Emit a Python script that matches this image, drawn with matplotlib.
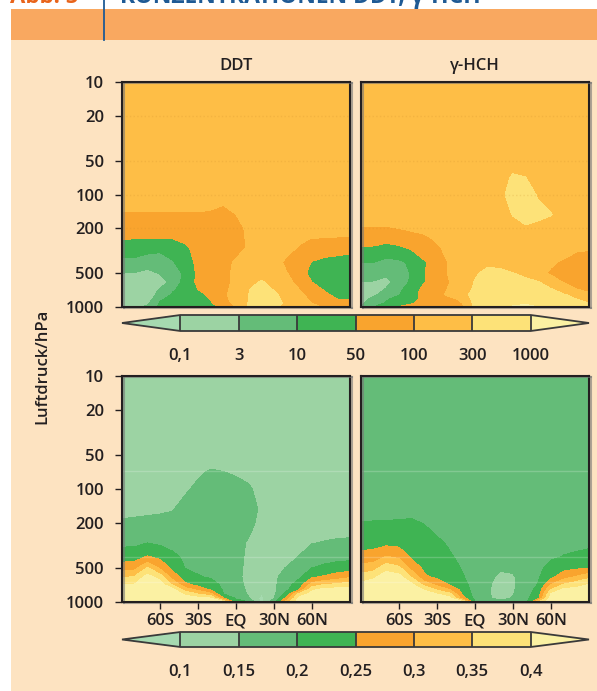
import numpy as np
import matplotlib
matplotlib.use("Agg")
from matplotlib import pyplot as plt
from matplotlib.patches import Rectangle
from matplotlib.ticker import NullLocator
import matplotlib.patheffects as pe

plt.rcParams['font.family'] = ['Open Sans', 'DejaVu Sans']
plt.rcParams['font.weight'] = 'semibold'

W, H = 597, 691

lats = [-90, -80, -70, -60, -50, -40, -30, -20, -10, 0, 10, 20, 30, 40, 50, 60, 70, 80, 90]
pressures = [10, 50, 70, 100, 150, 200, 250, 300, 400, 500, 600, 700, 775, 850, 925, 1000]

p_ticks = [10, 20, 50, 100, 200, 500, 1000]
lat_ticks = [-60, -30, 0, 30, 60]
lat_labels = ["60S", "30S", "EQ", "30N", "60N"]

# fields are read off the picture as position on the colour scale (class i = i..i+1)
# one row per pressure, top to bottom
ddt_conc = np.array([
    [5.5] * 19,
    [5.5] * 19,
    [5.5] * 19,
    [5.3, 5.3, 5.3, 5.3, 5.3, 5.3, 5.3, 5.3, 5.25, 5.4, 5.5, 5.5, 5.5, 5.5, 5.5, 5.5, 5.5, 5.5, 5.5],
    [4.95, 4.95, 4.95, 4.95, 4.95, 4.95, 4.95, 4.9, 4.75, 5.0, 5.6, 5.5, 5.5, 5.5, 5.5, 5.5, 5.5, 5.5, 5.5],
    [4.5, 4.5, 4.5, 4.5, 4.5, 4.5, 4.5, 4.5, 4.5, 4.5, 5.3, 5.5, 5.5, 5.5, 5.5, 5.5, 5.5, 5.5, 5.5],
    [4.0, 3.98, 3.95, 3.95, 3.98, 4.2, 4.5, 4.5, 4.5, 4.5, 5.2, 5.5, 5.5, 5.4, 5.15, 4.95, 4.9, 4.85, 4.85],
    [3.5, 3.5, 3.3, 3.2, 3.5, 3.8, 4.4, 4.5, 4.5, 4.5, 5.2, 5.5, 5.5, 5.3, 4.9, 4.6, 4.5, 4.4, 4.3],
    [2.7, 2.7, 2.5, 2.5, 2.9, 3.6, 4.2, 4.5, 4.5, 5.2, 5.5, 5.5, 5.5, 4.75, 4.5, 3.95, 3.7, 3.6, 3.5],
    [2.0, 1.95, 1.7, 2.05, 2.5, 3.2, 4.2, 4.4, 4.6, 5.3, 5.5, 5.5, 5.5, 5.05, 4.4, 3.7, 3.5, 3.4, 3.4],
    [1.5, 1.5, 1.4, 1.5, 2.3, 3.4, 4.2, 4.4, 4.6, 5.3, 5.7, 6.1, 5.7, 5.3, 4.7, 4.0, 3.5, 3.3, 3.3],
    [1.5, 1.5, 1.3, 2.1, 2.9, 3.3, 4.0, 4.4, 4.7, 5.4, 5.95, 6.4, 5.95, 5.5, 5.0, 4.5, 3.9, 3.5, 3.4],
    [1.5, 1.5, 1.3, 2.4, 3.1, 3.2, 3.7, 4.2, 4.8, 5.4, 6.0, 6.5, 6.2, 5.6, 5.2, 4.7, 4.2, 3.7, 3.6],
    [1.2, 1.5, 1.4, 2.9, 3.2, 3.3, 3.6, 4.05, 4.8, 5.3, 6.0, 6.6, 6.3, 5.7, 5.4, 4.8, 4.4, 4.0, 4.0],
    [0.9, 1.5, 1.8, 3.1, 3.3, 3.4, 3.6, 3.9, 4.6, 5.2, 6.05, 6.7, 6.4, 5.8, 5.4, 5.0, 4.5, 4.3, 4.2],
    [0.9, 1.7, 2.2, 3.2, 3.4, 3.5, 3.6, 3.9, 4.05, 5.0, 6.05, 6.6, 6.2, 5.6, 5.3, 5.3, 4.85, 4.5, 4.4],
])

hch_conc = np.array([
    [5.5] * 19,
    [5.5] * 19,
    [5.5, 5.5, 5.5, 5.5, 5.5, 5.5, 5.5, 5.5, 5.5, 5.5, 5.5, 5.5, 6.15, 6.0, 5.5, 5.5, 5.5, 5.5, 5.5],
    [5.5, 5.5, 5.5, 5.5, 5.5, 5.5, 5.5, 5.5, 5.5, 5.5, 5.5, 5.7, 6.5, 6.4, 5.9, 5.5, 5.5, 5.5, 5.5],
    [5.5, 5.5, 5.5, 5.5, 5.5, 5.5, 5.5, 5.5, 5.5, 5.5, 5.5, 5.6, 6.05, 6.4, 6.3, 6.05, 5.5, 5.5, 5.5],
    [4.9, 4.9, 4.9, 5.0, 5.1, 5.3, 5.4, 5.5, 5.5, 5.5, 5.5, 5.5, 5.6, 5.85, 5.6, 5.5, 5.5, 5.5, 5.5],
    [4.5, 4.4, 4.3, 4.4, 4.7, 4.7, 5.15, 5.5, 5.5, 5.5, 5.5, 5.5, 5.5, 5.5, 5.5, 5.5, 5.5, 5.5, 5.5],
    [3.9, 3.85, 3.6, 3.8, 4.1, 4.5, 4.8, 5.4, 5.5, 5.5, 5.5, 5.5, 5.5, 5.5, 5.5, 5.5, 5.3, 5.1, 5.05],
    [3.0, 3.0, 2.7, 2.8, 3.2, 3.9, 4.5, 5.1, 5.5, 5.6, 5.85, 5.8, 5.6, 5.5, 5.4, 5.1, 4.9, 4.7, 4.7],
    [2.4, 2.3, 2.2, 2.4, 3.1, 3.95, 4.5, 5.1, 5.5, 5.9, 6.2, 6.15, 6.02, 5.8, 5.2, 4.9, 4.5, 4.4, 4.4],
    [2.0, 1.95, 1.7, 2.5, 3.15, 3.95, 4.6, 5.0, 5.5, 6.05, 6.4, 6.4, 6.3, 6.2, 6.05, 5.4, 4.95, 4.6, 4.5],
    [1.6, 1.5, 2.1, 2.8, 3.5, 4.3, 4.6, 5.1, 5.7, 6.1, 6.5, 6.5, 6.4, 6.4, 6.3, 6.1, 5.6, 5.05, 4.8],
    [1.5, 1.8, 2.5, 2.95, 3.6, 4.4, 4.7, 5.2, 5.75, 6.3, 6.6, 6.6, 6.5, 6.5, 6.4, 6.3, 6.05, 5.8, 5.15],
    [1.6, 2.3, 2.9, 3.3, 3.7, 4.3, 4.7, 4.8, 5.15, 6.4, 6.7, 6.7, 6.7, 6.7, 6.6, 6.5, 6.2, 6.0, 5.7],
    [1.8, 2.6, 3.1, 3.5, 3.9, 4.4, 4.7, 4.8, 5.0, 6.3, 6.8, 6.8, 6.9, 6.95, 6.8, 6.7, 6.4, 6.2, 6.0],
    [2.0, 3.0, 3.7, 4.1, 4.4, 4.6, 4.7, 4.8, 4.85, 6.2, 6.8, 6.9, 7.05, 7.1, 7.0, 6.8, 6.5, 6.3, 6.1],
])

ddt_ratio = np.array([
    [1.5, 1.5, 1.5, 1.5, 1.7, 2.15, 2.5, 2.8, 3.55, 4.55, 5.85, 7.05, 7.4, 7.6, 7.7, 7.8],
    [1.5, 1.5, 1.5, 1.5, 1.75, 2.2, 2.5, 2.8, 3.6, 4.7, 6.1, 7.05, 7.4, 7.6, 7.7, 7.8],
    [1.5, 1.5, 1.5, 1.5, 1.8, 2.25, 2.6, 3.0, 4.1, 6.1, 7.4, 7.6, 7.7, 7.8, 7.8, 7.8],
    [1.5, 1.5, 1.5, 1.5, 1.85, 2.3, 2.6, 2.85, 3.8, 4.8, 6.6, 7.5, 7.7, 7.8, 7.8, 7.8],
    [1.5, 1.5, 1.5, 1.6, 1.95, 2.3, 2.55, 2.75, 3.2, 3.75, 4.55, 5.85, 7.3, 7.6, 7.7, 7.8],
    [1.5, 1.5, 1.6, 1.9, 2.3, 2.5, 2.6, 2.7, 2.85, 2.97, 3.5, 4.2, 5.5, 6.8, 7.4, 7.7],
    [1.5, 1.7, 1.9, 2.15, 2.35, 2.4, 2.5, 2.6, 2.75, 2.88, 3.05, 3.7, 4.7, 6.0, 7.3, 7.6],
    [1.5, 1.75, 2.05, 2.25, 2.4, 2.45, 2.5, 2.55, 2.7, 2.8, 2.92, 3.35, 3.8, 5.3, 7.05, 7.6],
    [1.5, 1.75, 2.0, 2.2, 2.35, 2.4, 2.45, 2.5, 2.55, 2.6, 2.7, 2.8, 2.9, 3.0, 4.1, 7.4],
    [1.5, 1.7, 1.95, 2.15, 2.3, 2.35, 2.3, 2.3, 2.4, 2.4, 2.35, 2.5, 2.6, 2.75, 2.9, 3.3],
    [1.5, 1.6, 1.8, 2.1, 2.25, 2.2, 2.05, 1.9, 1.75, 1.65, 1.6, 1.65, 1.75, 1.85, 2.1, 3.05],
    [1.5, 1.55, 1.6, 1.75, 1.9, 1.8, 1.7, 1.6, 1.55, 1.5, 1.5, 1.5, 1.3, 1.0, 0.7, 0.8],
    [1.5, 1.5, 1.5, 1.5, 1.5, 1.5, 1.5, 1.5, 1.5, 1.7, 1.75, 1.8, 1.8, 1.8, 2.0, 2.6],
    [1.5, 1.5, 1.5, 1.5, 1.5, 1.5, 1.5, 1.5, 1.7, 2.05, 2.5, 2.65, 2.8, 3.4, 4.3, 5.6],
    [1.5, 1.5, 1.5, 1.5, 1.5, 1.5, 1.6, 1.7, 2.05, 2.5, 2.85, 3.45, 3.95, 6.4, 7.3, 7.6],
    [1.5, 1.5, 1.5, 1.5, 1.5, 1.6, 1.8, 1.97, 2.5, 3.0, 3.85, 5.4, 6.8, 7.3, 7.6, 7.7],
    [1.5, 1.5, 1.5, 1.5, 1.5, 1.65, 1.85, 2.05, 2.6, 3.25, 4.15, 6.0, 7.3, 7.5, 7.7, 7.7],
    [1.5, 1.5, 1.5, 1.5, 1.5, 1.65, 1.9, 2.1, 2.7, 3.45, 4.5, 6.2, 7.4, 7.6, 7.7, 7.7],
    [1.5, 1.5, 1.5, 1.5, 1.5, 1.7, 1.9, 2.15, 2.75, 3.55, 4.85, 6.6, 7.4, 7.6, 7.7, 7.7],
]).T

hch_ratio = np.array([
    [2.5, 2.5, 2.5, 2.5, 2.75, 3.02, 3.3, 3.6, 4.35, 5.4, 6.45, 7.3, 7.5, 7.6, 7.7, 7.7],
    [2.5, 2.5, 2.5, 2.5, 2.75, 3.05, 3.35, 3.65, 4.5, 5.6, 6.85, 7.4, 7.6, 7.7, 7.7, 7.7],
    [2.5, 2.5, 2.5, 2.5, 2.75, 3.05, 3.4, 3.75, 5.1, 6.7, 7.5, 7.7, 7.7, 7.7, 7.7, 7.7],
    [2.5, 2.5, 2.5, 2.5, 2.75, 3.1, 3.45, 3.7, 4.8, 6.25, 7.4, 7.7, 7.7, 7.7, 7.7, 7.7],
    [2.5, 2.5, 2.5, 2.5, 2.8, 3.1, 3.35, 3.55, 3.85, 4.65, 5.9, 7.2, 7.5, 7.6, 7.7, 7.7],
    [2.5, 2.5, 2.5, 2.5, 2.7, 2.97, 3.2, 3.35, 3.55, 3.8, 4.15, 5.65, 6.9, 7.4, 7.6, 7.7],
    [2.5, 2.5, 2.5, 2.5, 2.6, 2.8, 2.95, 3.15, 3.4, 3.6, 3.8, 4.7, 5.8, 7.0, 7.4, 7.6],
    [2.5, 2.5, 2.5, 2.5, 2.5, 2.6, 2.75, 2.9, 3.1, 3.4, 3.6, 3.9, 5.0, 6.3, 7.3, 7.6],
    [2.5, 2.5, 2.5, 2.5, 2.5, 2.5, 2.55, 2.6, 2.8, 2.93, 3.1, 3.4, 3.6, 3.9, 4.5, 7.4],
    [2.5, 2.5, 2.5, 2.5, 2.5, 2.5, 2.5, 2.5, 2.5, 2.5, 2.5, 2.5, 2.55, 2.6, 2.7, 3.1],
    [2.5, 2.5, 2.5, 2.5, 2.5, 2.5, 2.5, 2.5, 2.5, 2.5, 2.4, 2.2, 2.15, 2.15, 2.2, 2.7],
    [2.5, 2.5, 2.5, 2.5, 2.5, 2.5, 2.5, 2.5, 2.5, 2.15, 1.7, 1.5, 1.5, 1.5, 1.6, 2.4],
    [2.5, 2.5, 2.5, 2.5, 2.5, 2.5, 2.5, 2.5, 2.5, 2.15, 1.9, 1.9, 1.9, 1.95, 2.1, 2.6],
    [2.5, 2.5, 2.5, 2.5, 2.5, 2.5, 2.5, 2.5, 2.5, 2.5, 2.5, 2.5, 2.5, 2.6, 2.7, 2.5],
    [2.5, 2.5, 2.5, 2.5, 2.5, 2.5, 2.5, 2.5, 2.55, 2.7, 2.9, 3.05, 3.3, 3.5, 3.8, 6.0],
    [2.5, 2.5, 2.5, 2.5, 2.5, 2.5, 2.5, 2.7, 2.85, 3.4, 3.75, 5.0, 5.95, 7.1, 7.5, 7.7],
    [2.5, 2.5, 2.5, 2.5, 2.5, 2.5, 2.6, 2.75, 3.05, 3.7, 4.6, 6.05, 7.2, 7.5, 7.6, 7.7],
    [2.5, 2.5, 2.5, 2.5, 2.5, 2.5, 2.65, 2.8, 3.15, 3.85, 5.1, 6.6, 7.3, 7.5, 7.6, 7.7],
    [2.5, 2.5, 2.5, 2.5, 2.5, 2.5, 2.7, 2.85, 3.25, 3.95, 5.75, 7.0, 7.4, 7.6, 7.7, 7.7],
]).T

class_edges = [1, 2, 3, 4, 5, 6, 7]
class_colors = ['#A6DAB0', '#9CD3A3', '#64BC78', '#3FB453', '#F9A42E', '#FEBE46', '#FDE278', '#FBF1A3']
conc_labels = ["0,1", "3", "10", "50", "100", "300", "1000"]
ratio_labels = ["0,1", "0,15", "0,2", "0,25", "0,3", "0,35", "0,4"]

DARK = '#231F20'
FS = 12


def box(x0, y0, x1, y1):
    return [x0 / W, 1 - y1 / H, (x1 - x0) / W, (y1 - y0) / H]


def panel(x0, y0, x1, y1, field, show_p=False, show_lat=False, title=None, faint=None):
    ax = fig.add_axes(box(x0, y0, x1, y1))
    cf = ax.contourf(lats, pressures, field, levels=class_edges, colors=class_colors[1:-1],
                     extend='both')
    cf.cmap.set_under(class_colors[0])
    cf.cmap.set_over(class_colors[-1])
    cf.changed()
    ax.set_yscale('log')
    ax.set_ylim(1000, 10)
    ax.set_xlim(-90, 90)
    ax.yaxis.set_minor_locator(NullLocator())
    ax.set_yticks(p_ticks if show_p else [])
    ax.set_yticklabels([str(p) for p in p_ticks] if show_p else [])
    ax.set_xticks(lat_ticks if show_lat else [])
    ax.set_xticklabels(lat_labels if show_lat else [])
    ax.tick_params(length=5, width=1.0, color=DARK, labelcolor=DARK, labelsize=FS, pad=8)
    ax.tick_params(axis='x', pad=3)
    if faint is not None:
        for p, c, ls in faint:
            ax.axhline(p, color=c, alpha=0.2, lw=1, ls=ls)
    for s in ax.spines.values():
        s.set_linewidth(1.5)
        s.set_color(DARK)
        s.set_path_effects([pe.SimpleLineShadow(offset=(1.5, -0.5), shadow_color='#777777', alpha=0.6),
                            pe.Normal()])
    if title:
        ax.set_title(title, fontsize=FS, color=DARK, pad=9, fontweight='semibold')
    return cf


def scale(cf, y0, y1, labels):
    cax = fig.add_axes(box(122, y0, 589, y1))
    cb = fig.colorbar(cf, cax=cax, orientation='horizontal', extendfrac=1 / 6,
                      drawedges=True, ticks=class_edges)
    cb.ax.set_xticklabels(labels)
    cb.ax.tick_params(length=0, labelsize=FS, labelcolor=DARK, pad=12)
    cb.outline.set_edgecolor('#3A3A3A')
    cb.outline.set_linewidth(1.3)
    cb.dividers.set_color('#3A3A3A')
    cb.dividers.set_linewidth(1.3)


fig = plt.figure(figsize=(W / 100, H / 100), dpi=100, facecolor='white')

# page furniture: orange head band, peach box, cut off headline
fig.add_artist(Rectangle((11 / W, 0), 1 - 11 / W, 1 - 40 / H, transform=fig.transFigure,
                         facecolor='#FDE3C1', edgecolor='none', zorder=-2))
fig.add_artist(Rectangle((11 / W, 1 - 40 / H), 1 - 11 / W, 31 / H, transform=fig.transFigure,
                         facecolor='#F9A860', edgecolor='none', zorder=-2))
fig.add_artist(plt.Line2D([104 / W, 104 / W], [1 - 40 / H, 1], transform=fig.transFigure,
                          color='#1F5A94', lw=1.3, zorder=-1))
fig.text(10 / W, 1 - 3 / H, "Abb. 5", color='#E8641B', fontsize=16, fontweight='bold', va='baseline')
fig.text(120 / W, 1 - 3 / H, "KONZENTRATIONEN DDT, γ-HCH", color='#1F5A94', fontsize=16.5,
         fontweight='bold', va='baseline')

top_faint = [(20, '#C98A2A', ':'), (50, '#C98A2A', ':'), (100, '#C98A2A', ':'), (200, '#C98A2A', ':')]
low_faint = [(70, 'white', '-'), (400, 'white', '-'), (660, 'white', '-')]

cf_top = panel(122, 82, 350, 307, ddt_conc, show_p=True, title="DDT", faint=top_faint)
panel(361, 82, 589, 307, hch_conc, title="γ-HCH", faint=top_faint)
cf_low = panel(122, 376, 350, 602, ddt_ratio, show_p=True, show_lat=True, faint=low_faint)
panel(361, 376, 589, 602, hch_ratio, show_lat=True, faint=low_faint)

scale(cf_top, 315, 331, conc_labels)
scale(cf_low, 632, 647, ratio_labels)

fig.text(42 / W, 1 - 366 / H, "Luftdruck/hPa", rotation=90, fontsize=FS, color=DARK,
         ha='center', va='center', fontweight='semibold')

fig.savefig("out.png", dpi=100, facecolor=fig.get_facecolor())
